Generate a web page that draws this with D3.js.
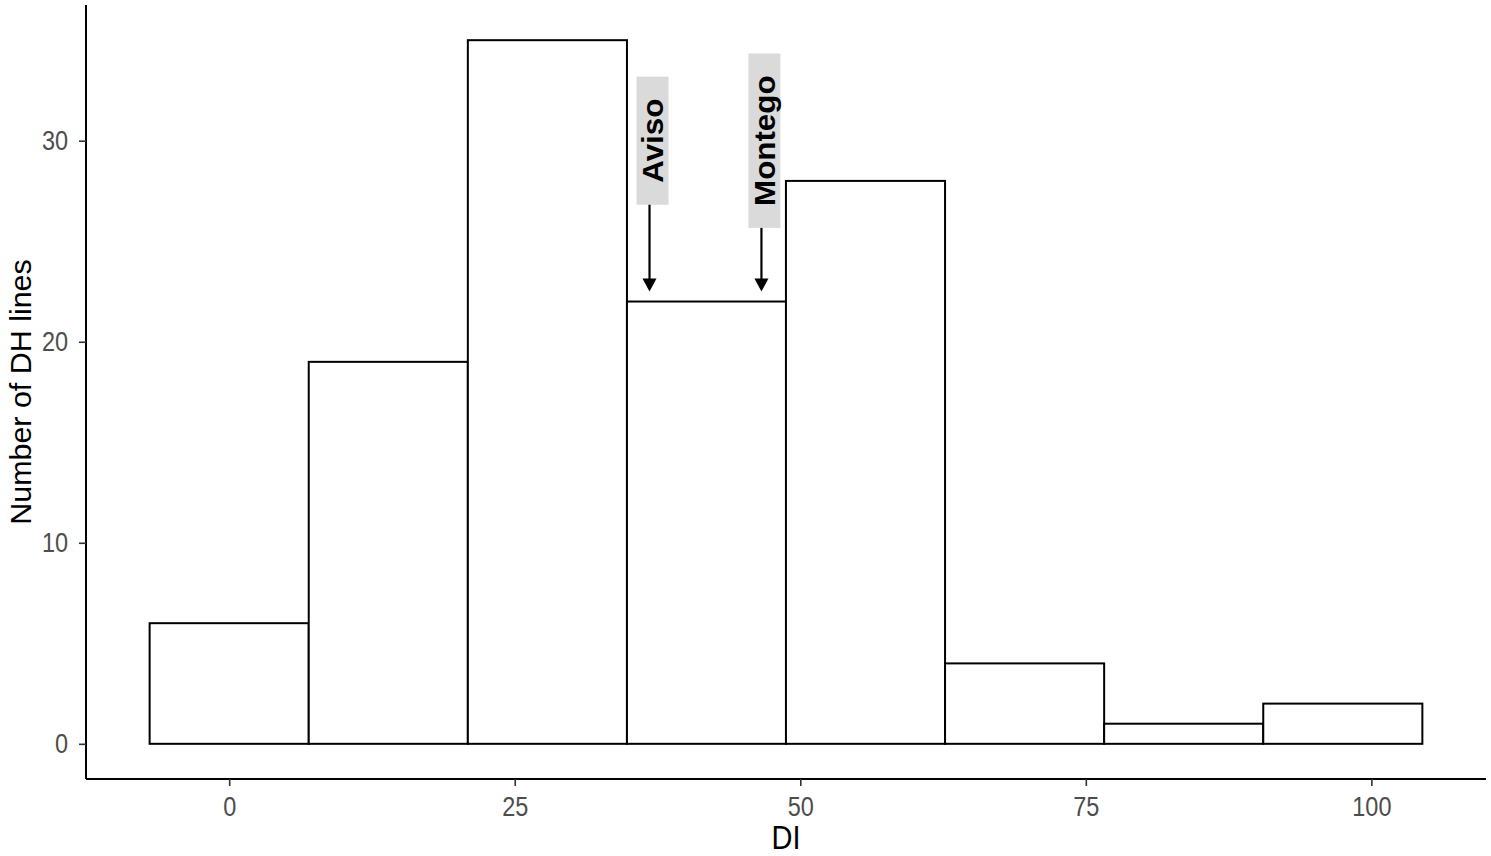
<!DOCTYPE html>
<html>
<head>
<meta charset="utf-8">
<script src="https://cdn.jsdelivr.net/npm/d3@7"></script>
<style>
  html, body { margin: 0; padding: 0; background: #ffffff; }
  svg { display: block; }
  text { font-family: "Liberation Sans", Arial, sans-serif; }
</style>
</head>
<body>
<svg id="chart" width="1491" height="856"></svg>
<script>
// ---- data ----
const binCenters = [0, 13.93, 27.86, 41.79, 55.71, 69.64, 83.57, 97.5];
const binWidth = 13.93;
const counts = [6, 19, 35, 22, 28, 4, 1, 2];
const xTicks = [0, 25, 50, 75, 100];
const yTicks = [0, 10, 20, 30];
const labelNames = ["Aviso", "Montego"];
const labelX = [36.8, 46.6];
const labelY = [30, 30];
const arrowTipY = [22.5, 22.5];
const xTitle = "DI";
const yTitle = "Number of DH lines";

// ---- layout ----
const svg = d3.select("#chart");
const mLeft = 86, mRight = 1486, mTop = 5, mBottom = 779;
const stretch = 1.15; // reference text is slightly taller than wide

const xmin = binCenters[0] - binWidth / 2, xmax = binCenters[binCenters.length - 1] + binWidth / 2;
const xpad = (xmax - xmin) * 0.05;
const x = d3.scaleLinear().domain([xmin - xpad, xmax + xpad]).range([mLeft, mRight]);
const ymaxv = d3.max(counts);
const ypad = ymaxv * 0.05;
const y = d3.scaleLinear().domain([-ypad, ymaxv + ypad]).range([mBottom, mTop]);

// bars
svg.append("g").selectAll("rect").data(counts).join("rect")
  .attr("x", (d, i) => x(binCenters[i] - binWidth / 2))
  .attr("width", (d, i) => x(binCenters[i] + binWidth / 2) - x(binCenters[i] - binWidth / 2))
  .attr("y", d => y(d))
  .attr("height", d => y(0) - y(d))
  .attr("fill", "#ffffff")
  .attr("stroke", "#000000")
  .attr("stroke-width", 2);

// axes
const xAxis = svg.append("g").attr("transform", `translate(0,${mBottom})`)
  .call(d3.axisBottom(x).tickValues(xTicks).tickSize(7).tickPadding(11).tickSizeOuter(0));
const yAxis = svg.append("g").attr("transform", `translate(${mLeft},0)`)
  .call(d3.axisLeft(y).tickValues(yTicks).tickSize(7).tickPadding(11).tickSizeOuter(0));
[xAxis, yAxis].forEach(g => {
  g.select(".domain").attr("stroke", "#000").attr("stroke-width", 2);
  g.selectAll(".tick line").attr("stroke", "#333").attr("stroke-width", 1.6);
  g.selectAll(".tick text").attr("fill", "#4d4d4d").style("font-size", "23.5px")
    .style("font-family", "'Liberation Sans', Arial, sans-serif");
});
xAxis.selectAll(".tick text")
  .attr("y", 0).attr("dy", "0.71em")
  .attr("transform", `translate(0,18) scale(1,${stretch})`);
yAxis.selectAll(".tick text")
  .attr("transform", `scale(1,${stretch})`);
xAxis.select(".domain").attr("d", `M${mLeft},0H${mRight}`);
yAxis.select(".domain").attr("d", `M0,${mBottom}V${mTop}`);

// titles
svg.append("text")
  .attr("transform", `translate(${(mLeft + mRight) / 2},848.5) scale(1,1.15)`)
  .attr("text-anchor", "middle").style("font-size", "29px").attr("fill", "#000").text(xTitle);
svg.append("text")
  .attr("transform", `translate(31,${(mTop + mBottom) / 2}) rotate(-90) scale(1.05,1)`)
  .attr("text-anchor", "middle").style("font-size", "29px").attr("fill", "#000").text(yTitle);

// annotation labels + arrows
labelNames.forEach((name, i) => {
  const ax = x(labelX[i]);
  const cx = ax + 3, cy = y(labelY[i]);
  const g = svg.append("g").attr("transform", `translate(${cx},${cy}) rotate(-90)`);
  const t = g.append("text").attr("text-anchor", "middle").attr("dy", "0.36em")
    .attr("transform", "scale(1.08,1)")
    .style("font-size", "29px").style("font-weight", "bold").attr("fill", "#000").text(name);
  const bb = t.node().getBBox();
  const half = bb.width * 1.08 / 2;
  const pad = 22;
  g.insert("rect", "text")
    .attr("x", -half - pad).attr("y", -16)
    .attr("width", 2 * (half + pad)).attr("height", 32)
    .attr("fill", "#dadada");
  const boxBottom = cy + half + pad;
  const tip = y(arrowTipY[i]);
  const headLen = 13, headHalf = 7;
  svg.append("line")
    .attr("x1", ax).attr("x2", ax)
    .attr("y1", boxBottom).attr("y2", tip - headLen + 1)
    .attr("stroke", "#000").attr("stroke-width", 2.2);
  svg.append("path")
    .attr("d", `M${ax - headHalf},${tip - headLen}L${ax + headHalf},${tip - headLen}L${ax},${tip}Z`)
    .attr("fill", "#000");
});
</script>
</body>
</html>
